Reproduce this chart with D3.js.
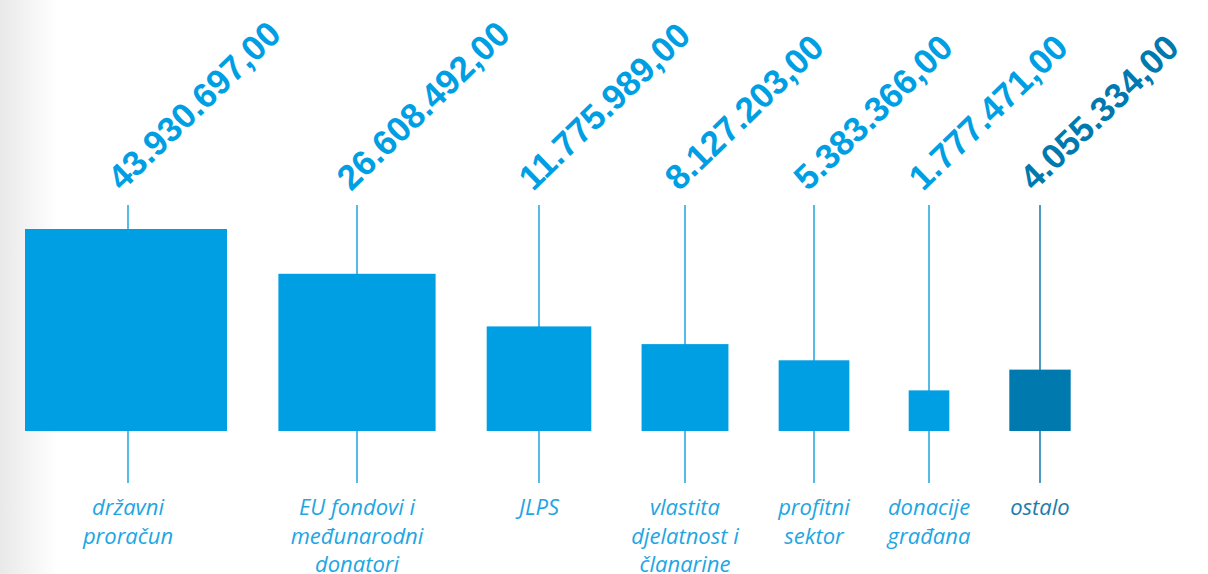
<!DOCTYPE html>
<html>
<head>
<meta charset="utf-8">
<script src="https://cdn.jsdelivr.net/npm/d3@7"></script>
<style>
  html, body { margin: 0; padding: 0; background: #fff; }
  svg { display: block; }
</style>
</head>
<body>
<svg id="chart" width="1208" height="574"></svg>
<script>
// ---- data ----
const categories = [
  ["državni", "proračun"],
  ["EU fondovi i", "međunarodni", "donatori"],
  ["JLPS"],
  ["vlastita", "djelatnost i", "članarine"],
  ["profitni", "sektor"],
  ["donacije", "građana"],
  ["ostalo"]
];
const values = [43930697, 26608492, 11775989, 8127203, 5383366, 1777471, 4055334];
const valueLabels = ["43.930.697,00", "26.608.492,00", "11.775.989,00", "8.127.203,00",
                     "5.383.366,00", "1.777.471,00", "4.055.334,00"];
const highlight = [false, false, false, false, false, false, true];

// ---- layout ----
const W = 1208, H = 574;
const centers = [128, 357, 539, 685, 814, 929, 1040];
const baseY = 431;
const lineTop = 205, lineBottom = 483;
const mainBlue = "#009fe3", darkBlue = "#0079ae";
const lineBlue = "#2aaae3", lineDark = "#1f82b0";
const textBlue = "#1ea6e3", textDark = "#1b7dab";

const svg = d3.select("#chart");

// left background gradient
const defs = svg.append("defs");
const grad = defs.append("linearGradient").attr("id", "bg").attr("x1", 0).attr("x2", 1).attr("y1", 0).attr("y2", 0);
grad.append("stop").attr("offset", 0).attr("stop-color", "#e9e9e9");
grad.append("stop").attr("offset", 1).attr("stop-color", "#ffffff");
svg.append("rect").attr("x", 0).attr("y", 0).attr("width", 58).attr("height", H).attr("fill", "url(#bg)");

// area-proportional square size
const side = d3.scaleSqrt().domain([0, d3.max(values)]).range([0, 202]);
const xPos = d3.scaleOrdinal().domain(d3.range(values.length)).range(centers);

const data = values.map((v, i) => ({ v, i, cat: categories[i], lab: valueLabels[i], hi: highlight[i] }));

const g = svg.append("g");

// vertical lines
g.selectAll("line.stem").data(data).join("line")
  .attr("class", "stem")
  .attr("x1", d => xPos(d.i)).attr("x2", d => xPos(d.i))
  .attr("y1", lineTop).attr("y2", lineBottom)
  .attr("stroke", d => d.hi ? lineDark : lineBlue)
  .attr("stroke-width", 1.6);

// squares
g.selectAll("rect.sq").data(data).join("rect")
  .attr("class", "sq")
  .attr("x", d => xPos(d.i) - side(d.v) / 2 - (d.i === 0 ? 2 : 0))
  .attr("y", d => baseY - side(d.v))
  .attr("width", d => side(d.v))
  .attr("height", d => side(d.v))
  .attr("fill", d => d.hi ? darkBlue : mainBlue);

// rotated value labels
g.selectAll("text.val").data(data).join("text")
  .attr("class", "val")
  .attr("transform", d => `translate(${xPos(d.i) - 6},${192}) rotate(-44)`)
  .attr("font-family", "'Liberation Sans', Arial, sans-serif")
  .attr("font-weight", "bold")
  .attr("font-size", 35)
  .attr("fill", d => d.hi ? darkBlue : mainBlue)
  .text(d => d.lab);

// category labels
const cl = g.selectAll("text.cat").data(data).join("text")
  .attr("class", "cat")
  .attr("text-anchor", "middle")
  .attr("font-family", "'Open Sans', Lato, sans-serif")
  .attr("font-style", "italic")
  .attr("font-size", 22)
  .attr("fill", d => d.hi ? textDark : textBlue);
cl.selectAll("tspan").data(d => d.cat.map((t, k) => ({ t, k, x: xPos(d.i) }))).join("tspan")
  .attr("x", d => d.x)
  .attr("y", d => 515 + d.k * 28.5)
  .text(d => d.t);
</script>
</body>
</html>
